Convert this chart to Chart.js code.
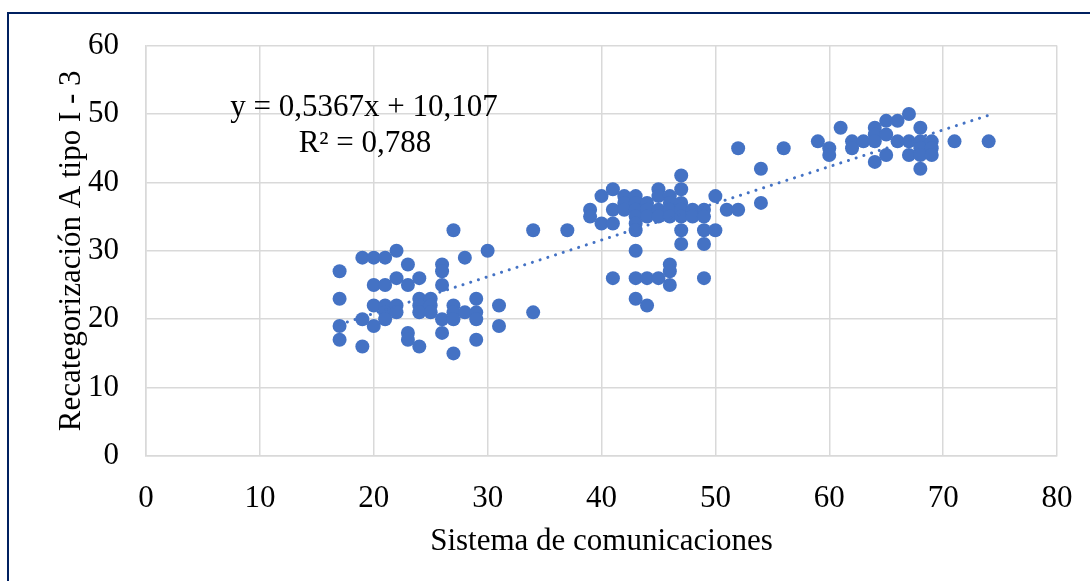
<!DOCTYPE html>
<html>
<head>
<meta charset="utf-8">
<script src="https://cdn.jsdelivr.net/npm/chart.js@4.4.0/dist/chart.umd.min.js"></script>
<style>
  html, body { margin: 0; padding: 0; background: #fff; overflow: hidden; }
  #frame {
    position: absolute; left: 7px; top: 12px;
    width: 1200px; height: 700px;
    border: 2px solid #002060;
  }
  #wrap { position: absolute; left: 0; top: 0; width: 1090px; height: 581px; }
</style>
</head>
<body>
<div id="frame"></div>
<div id="wrap"><canvas id="scatterChart"></canvas></div>
<script>
// Sistema de comunicaciones (x) vs Recategorización A tipo I - 3 (y)
const xValues = [
  17, 17, 17, 17, 19, 19, 19, 20, 20, 20, 20, 21, 21, 21, 21, 21,
  22, 22, 22, 22, 23, 23, 23, 23, 24, 24, 24, 24, 24, 25, 25, 25,
  26, 26, 26, 26, 26, 27, 27, 27, 27, 27, 28, 28, 29, 29, 29, 29,
  30, 31, 31, 34, 34, 37,
  39, 39, 40, 40, 41, 41, 41, 41, 42, 42, 42,
  43, 43, 43, 43, 43, 43, 43, 43, 43,
  44, 44, 44, 44, 44, 45, 45, 45, 45, 45,
  46, 46, 46, 46, 46, 46, 46, 47, 47, 47, 47, 47, 47, 47,
  48, 48, 49, 49, 49, 49, 49, 50, 50, 51, 52, 54, 54,
  52, 56, 59, 60, 60, 61, 62, 62, 63, 64, 64, 64, 64,
  65, 65, 65, 66, 66, 67, 67, 67, 68, 68, 68, 68, 68,
  69, 69, 69, 71, 74
];
const yValues = [
  27, 23, 19, 17, 29, 20, 16, 29, 25, 22, 19, 29, 25, 22, 21, 20,
  30, 26, 22, 21, 28, 25, 18, 17, 26, 23, 22, 21, 16, 23, 22, 21,
  28, 27, 25, 20, 18, 33, 22, 21, 20, 15, 29, 21, 23, 21, 20, 17,
  30, 22, 19, 33, 21, 33,
  36, 35, 38, 34, 39, 36, 34, 26, 38, 37, 36,
  38, 37, 36, 35, 34, 33, 30, 26, 23,
  37, 36, 35, 26, 22, 39, 38, 36, 35, 26,
  38, 37, 36, 35, 28, 27, 25, 41, 39, 37, 36, 35, 33, 31,
  36, 35, 36, 35, 33, 31, 26, 38, 33, 36, 36, 37, 42,
  45, 45, 46, 45, 44, 48, 46, 45, 46, 48, 47, 46, 43,
  49, 47, 44, 49, 46, 50, 46, 44, 48, 46, 45, 44, 42,
  46, 45, 44, 46, 46
];

// linear trend as shown in the chart: y = 0,5367x + 10,107
const trendX = [17, 74];
const trendY = [19.23, 49.82];
const equationLabel = 'y = 0,5367x + 10,107';
const r2Label = 'R² = 0,788';

const xTicks = [0, 10, 20, 30, 40, 50, 60, 70, 80];
const yTicks = [0, 10, 20, 30, 40, 50, 60];

const xTitle = 'Sistema de comunicaciones';
const yTitle = 'Recategorización A tipo I - 3';

document.addEventListener('DOMContentLoaded', function() {
    const ctx = document.getElementById('scatterChart').getContext('2d');
    const serif = "'Liberation Serif', 'Times New Roman', serif";
    const blue = '#4472C4';
    const gridColor = '#d9d9d9';
    const fontSize = 31;

    const points = xValues.map((x, i) => ({ x: x, y: yValues[i] }));
    const trend = trendX.map((x, i) => ({ x: x, y: trendY[i] }));

    // trendline label, placed like Excel's
    const equationPlugin = {
        id: 'equation',
        afterDatasetsDraw(chart) {
            const c = chart.ctx;
            const area = chart.chartArea;
            c.save();
            c.font = fontSize + 'px ' + serif;
            c.fillStyle = '#000';
            c.textAlign = 'center';
            c.textBaseline = 'middle';
            c.fillText(equationLabel, area.left + 218, area.top + 62);
            c.fillText(r2Label, area.left + 219, area.top + 98);
            c.restore();
        }
    };

    const config = {
        type: 'scatter',
        data: {
            datasets: [
                {
                    label: 'Lineal',
                    data: trend,
                    showLine: true,
                    borderColor: blue,
                    borderWidth: 3,
                    borderDash: [0.1, 8],
                    borderCapStyle: 'round',
                    pointRadius: 0,
                    fill: false
                },
                {
                    label: 'Datos',
                    data: points,
                    backgroundColor: blue,
                    borderColor: blue,
                    borderWidth: 0,
                    pointRadius: 7,
                    pointHoverRadius: 7
                }
            ]
        },
        options: {
            responsive: true,
            maintainAspectRatio: false,
            animation: false,
            layout: {
                padding: { top: 44, right: 33, left: 0, bottom: 0 }
            },
            plugins: {
                legend: { display: false },
                tooltip: { enabled: false }
            },
            scales: {
                x: {
                    type: 'linear',
                    min: xTicks[0],
                    max: xTicks[xTicks.length - 1],
                    afterBuildTicks: (scale) => { scale.ticks = xTicks.map(v => ({ value: v })); },
                    afterFit: (scale) => { scale.height = 125; },
                    grid: {
                        color: gridColor, lineWidth: 1.5,
                        drawTicks: true, tickLength: 24, tickColor: 'rgba(0,0,0,0)'
                    },
                    border: { display: true, color: gridColor, width: 1.5 },
                    ticks: {
                        color: '#000',
                        padding: 0,
                        font: { family: serif, size: fontSize }
                    },
                    title: {
                        display: true,
                        text: xTitle,
                        color: '#000',
                        font: { family: serif, size: fontSize },
                        padding: { top: 0, bottom: 21 }
                    }
                },
                y: {
                    type: 'linear',
                    min: yTicks[0],
                    max: yTicks[yTicks.length - 1],
                    afterBuildTicks: (scale) => { scale.ticks = yTicks.map(v => ({ value: v })); },
                    afterFit: (scale) => { scale.width = 146; },
                    grid: { color: gridColor, lineWidth: 1.5, drawTicks: false },
                    border: { display: true, color: gridColor, width: 1.5 },
                    ticks: {
                        color: '#000',
                        padding: 27,
                        font: { family: serif, size: fontSize }
                    },
                    title: {
                        display: true,
                        text: yTitle,
                        color: '#000',
                        font: { family: serif, size: fontSize },
                        padding: { top: 53, bottom: 0 }
                    }
                }
            }
        },
        plugins: [equationPlugin]
    };

    new Chart(ctx, config);
});
</script>
</body>
</html>
